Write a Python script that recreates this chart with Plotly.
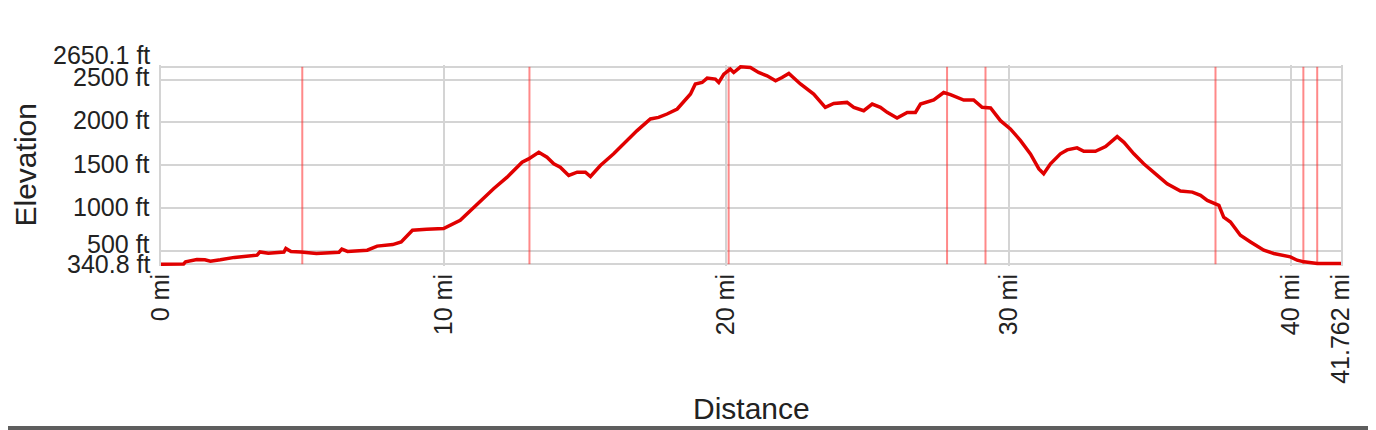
import plotly.graph_objects as go

# ---- data ----
distance_mi = [0.0, 0.8, 0.87, 1.27, 1.55, 1.75, 2.1, 2.6, 3.4, 3.5, 3.8, 4.35, 4.42, 4.6, 4.95,
               5.5, 6.3, 6.4, 6.6, 7.3, 7.65, 8.2, 8.5, 8.9, 9.4, 10.0, 10.59, 11.07, 11.77, 12.25,
               12.78, 13.01, 13.37, 13.66, 13.90, 14.13, 14.43, 14.73, 15.02, 15.20, 15.55, 16.02,
               16.38, 16.85, 17.32, 17.61, 17.91, 18.27, 18.74, 18.91, 19.15, 19.33, 19.62, 19.74,
               19.92, 20.15, 20.27, 20.51, 20.86, 21.15, 21.45, 21.75, 21.98, 22.22, 22.63, 23.10,
               23.51, 23.81, 24.28, 24.52, 24.87, 25.17, 25.46, 25.70, 26.05, 26.41, 26.70, 26.88,
               27.35, 27.70, 27.94, 28.41, 28.76, 29.06, 29.36, 29.71, 30.06, 30.42, 30.77, 31.07,
               31.24, 31.48, 31.83, 32.07, 32.42, 32.66, 33.07, 33.43, 33.84, 34.08, 34.43, 34.78,
               35.26, 35.61, 36.08, 36.50, 36.79, 37.03, 37.44, 37.61, 37.85, 38.20, 38.56, 39.03,
               39.38, 39.97, 40.21, 40.45, 40.92, 41.762]
elevation_ft = [341, 343, 368, 395, 392, 375, 392, 420, 446, 484, 468, 482, 524, 490, 484,
                466, 480, 516, 490, 504, 552, 570, 601, 737, 749, 757, 854, 1009, 1224, 1359,
                1534, 1573, 1650, 1592, 1515, 1476, 1379, 1417, 1417, 1367, 1495, 1632,
                1749, 1904, 2040, 2059, 2098, 2157, 2332, 2448, 2467, 2518, 2507, 2467,
                2565, 2623, 2584, 2650.1, 2642, 2584, 2545, 2487, 2526, 2572, 2450, 2332,
                2176, 2222, 2234, 2176, 2137, 2215, 2176, 2117, 2052, 2117, 2117, 2215,
                2262, 2350, 2324, 2262, 2262, 2176, 2168, 2020, 1923, 1787, 1631, 1456,
                1398, 1515, 1632, 1678, 1702, 1662, 1662, 1717, 1834, 1767, 1632, 1515,
                1379, 1282, 1196, 1184, 1146, 1087, 1029, 892, 834, 679, 601, 504,
                466, 426, 387, 368, 349, 349]
marker_mi = [5.0, 13.04, 20.09, 27.82, 29.18, 37.32, 40.43, 40.92]

x_tick_vals = [0, 10, 20, 30, 40, 41.762]
x_tick_text = ["0 mi", "10 mi", "20 mi", "30 mi", "40 mi", "41.762 mi"]
y_tick_vals = [340.8, 500, 1000, 1500, 2000, 2500, 2650.1]
y_tick_text = ["340.8 ft", "500 ft", "1000 ft", "1500 ft", "2000 ft", "2500 ft", "2650.1 ft"]

# ---- styling ----
FONT = "Liberation Sans, Arial, sans-serif"
GRID = "#d4d4d4"
y_label_lift = [0, 7, 1, 1, 2, 3, 12]   # px nudges to reduce label collisions

y_min, y_max = y_tick_vals[0], y_tick_vals[-1]
pad = 21.6

fig = go.Figure()
fig.add_trace(go.Scatter(
    x=distance_mi, y=elevation_ft, mode="lines",
    line=dict(color="#e00000", width=3.5, shape="linear"),
    hoverinfo="skip", showlegend=False,
))

for m in marker_mi:
    fig.add_shape(type="line", xref="x", yref="y", x0=m, x1=m, y0=y_min, y1=y_max,
                  line=dict(color="rgba(255,40,40,0.55)", width=2), layer="between")

annotations = []
for v, t, lift in zip(y_tick_vals, y_tick_text, y_label_lift):
    annotations.append(dict(x=0, xref="paper", y=v, yref="y", text=t, showarrow=False,
                            xanchor="right", yanchor="middle", xshift=-9, yshift=lift,
                            font=dict(family=FONT, size=25, color="#222")))
annotations.append(dict(x=0, xref="paper", y=0.5, yref="paper", text="Elevation",
                        showarrow=False, textangle=-90, xanchor="center", yanchor="middle",
                        xshift=-136, font=dict(family=FONT, size=30, color="#222")))
annotations.append(dict(x=0.5, xref="paper", y=0, yref="paper", text="Distance",
                        showarrow=False, xanchor="center", yanchor="middle",
                        yshift=-142, font=dict(family=FONT, size=30, color="#222")))

# dark border strip at the bottom of the picture
fig.add_shape(type="rect", xref="paper", yref="paper", x0=-0.2, x1=1.2, y0=-0.796, y1=-0.9,
              fillcolor="#5e5e5e", line=dict(width=0), layer="above")

# page body has an 8px margin, so the figure is 8px smaller each way
fig.update_layout(
    width=1368, height=422,
    margin=dict(l=153, r=35, t=57, b=164, autoexpand=False),
    paper_bgcolor="white", plot_bgcolor="white",
    font=dict(family=FONT, color="#222"),
    annotations=annotations,
    showlegend=False,
)
fig.update_xaxes(
    range=[0, x_tick_vals[-1]], tickmode="array", tickvals=x_tick_vals, ticktext=x_tick_text,
    tickangle=-90, tickfont=dict(family=FONT, size=25, color="#222"),
    showgrid=True, gridcolor=GRID, gridwidth=2, zeroline=False, showline=False,
    ticks="", ticklabelstandoff=2, fixedrange=True,
)
fig.update_yaxes(
    range=[y_min - pad, y_max + pad], tickmode="array", tickvals=y_tick_vals,
    showticklabels=False, showgrid=True, gridcolor=GRID, gridwidth=2, zeroline=False,
    showline=True, linecolor=GRID, linewidth=2, mirror=True, ticks="", fixedrange=True,
)

fig.write_html("out.html")
